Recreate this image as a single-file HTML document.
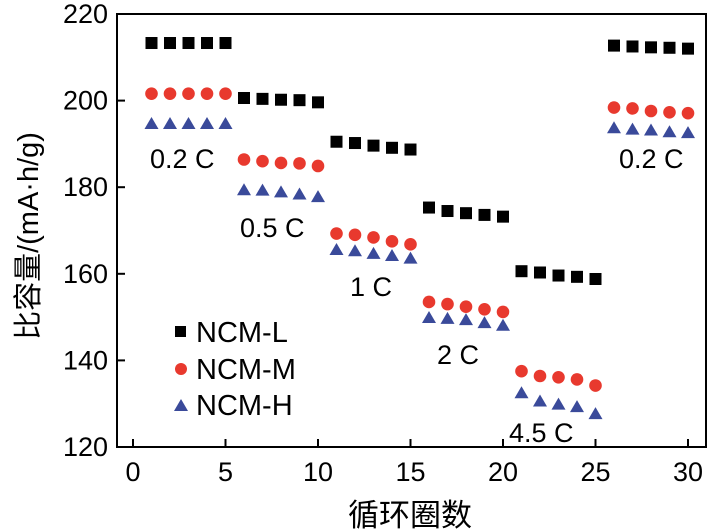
<!DOCTYPE html>
<html><head><meta charset="utf-8"><style>
body{margin:0;background:#fff}
svg{display:block;font-family:"Liberation Sans","Noto Sans CJK SC",sans-serif}
</style></head><body>
<svg id="chart" width="711" height="532" viewBox="0 0 711 532">
<rect x="117" y="14" width="589" height="433" fill="none" stroke="#000" stroke-width="2"/>
<g id="ticks"></g>
<g id="marks"></g>
<g font-size="27" fill="#000">
<text x="150" y="168">0.2 C</text>
<text x="240" y="237">0.5 C</text>
<text x="350" y="296">1 C</text>
<text x="437" y="364">2 C</text>
<text x="509" y="442">4.5 C</text>
<text x="619" y="168">0.2 C</text>
</g>
<g font-size="29">
<rect x="175" y="326" width="11" height="11" fill="#000"/>
<text x="196" y="342">NCM-L</text>
<circle cx="181" cy="369" r="6" fill="#e8392e"/>
<text x="196" y="379">NCM-M</text>
<polygon points="174,411 188,411 181,399" fill="#3a4a9a"/>
<text x="196" y="415">NCM-H</text>
</g>
<text x="410" y="526" font-size="31" text-anchor="middle">循环圈数</text>
<text transform="translate(38,236) rotate(-90)" font-size="29" text-anchor="middle">比容量/(mA·h/g)</text>
</svg>
<script>
const cycles=[1,2,3,4,5,6,7,8,9,10,11,12,13,14,15,16,17,18,19,20,21,22,23,24,25,26,27,28,29,30];
const ncmL=[213.3,213.3,213.3,213.3,213.3,200.6,200.4,200.2,200.1,199.6,190.5,190.2,189.6,189.1,188.7,175.3,174.5,174.0,173.6,173.2,160.6,160.3,159.6,159.3,158.8,212.7,212.5,212.3,212.2,212.0];
const ncmM=[201.6,201.6,201.6,201.6,201.6,186.4,186.0,185.6,185.5,184.9,169.3,169.0,168.4,167.5,166.8,153.5,153.0,152.4,151.8,151.2,137.5,136.4,136.1,135.6,134.2,198.4,198.2,197.6,197.3,197.1];
const ncmH=[194.6,194.6,194.6,194.6,194.6,179.3,179.2,178.8,178.3,177.7,165.5,165.2,164.6,164.1,163.5,149.8,149.6,149.3,148.6,148.0,132.4,130.5,129.8,129.2,127.6,193.6,193.3,193.1,192.7,192.5];
const xTicks=[0,5,10,15,20,25,30];
const yTicks=[120,140,160,180,200,220];
const NS="http://www.w3.org/2000/svg";
const xs=v=>133+v*(688-133)/30;
const ys=v=>447-(v-120)*(433/100);
const tg=document.getElementById('ticks'),mg=document.getElementById('marks');
function mk(tag,attrs,p){const e=document.createElementNS(NS,tag);for(const k in attrs)e.setAttribute(k,attrs[k]);p.appendChild(e);return e;}
xTicks.forEach(t=>{
 const l=mk('line',{x1:xs(t),x2:xs(t),y1:447,y2:439,stroke:'#000','stroke-width':2},tg);
 
 
 const tx=mk('text',{x:xs(t),y:481,'font-size':27,'text-anchor':'middle'},tg);tx.textContent=t;
 
 
});
yTicks.forEach(t=>{
 const l=mk('line',{x1:117,x2:125,y1:ys(t),y2:ys(t),stroke:'#000','stroke-width':2},tg);
 
 
 const tx=mk('text',{x:108,y:ys(t)+9,'font-size':27,'text-anchor':'end'},tg);tx.textContent=t;
 
 
});
cycles.forEach((c,i)=>{
 const x=xs(c);
 const s=mk('rect',{x:x-6,y:ys(ncmL[i])-6,width:12,height:12,fill:'#000'},mg);
 
 
 const m=mk('circle',{cx:x,cy:ys(ncmM[i]),r:6.3,fill:'#e8392e'},mg);
 
 
 const y=ys(ncmH[i]);
 const h=mk('polygon',{points:`${x-7},${y+5} ${x+7},${y+5} ${x},${y-7}`,fill:'#3a4a9a'},mg);
 
 
});
</script>
</body></html>
